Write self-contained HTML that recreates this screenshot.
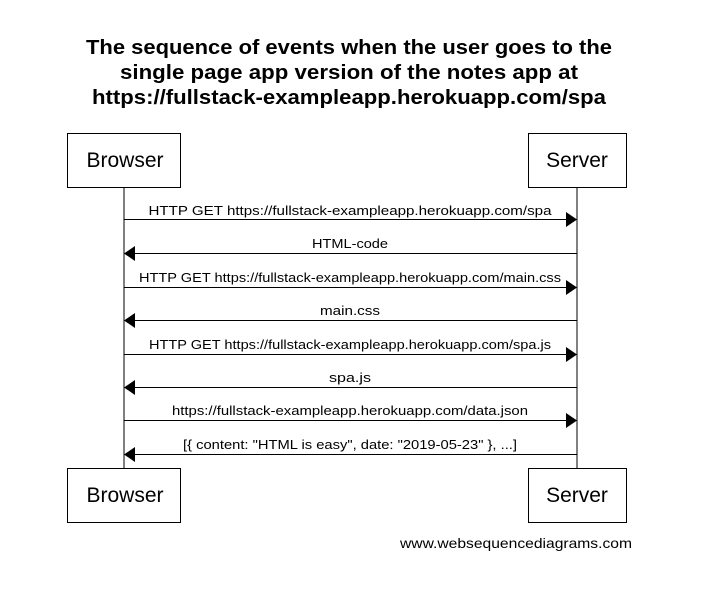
<!DOCTYPE html>
<html><head><style>body{margin:0;background:#fff}</style></head><body>
<svg width="705" height="590" xmlns="http://www.w3.org/2000/svg" font-family="Liberation Sans, sans-serif">
<g font-weight="bold" font-size="20" text-anchor="middle" fill="#000" lengthAdjust="spacingAndGlyphs">
<text x="349" y="54" textLength="526" lengthAdjust="spacingAndGlyphs">The sequence of events when the user goes to the</text>
<text x="349" y="79" textLength="458" lengthAdjust="spacingAndGlyphs">single page app version of the notes app at</text>
<text x="349" y="104" textLength="514" lengthAdjust="spacingAndGlyphs">https://fullstack-exampleapp.herokuapp.com/spa</text>
</g>
<g stroke="#000" stroke-width="1" fill="#fff">
<line x1="124" y1="187" x2="124" y2="468"/>
<line x1="577" y1="187" x2="577" y2="468"/>
<rect x="67.5" y="133.5" width="113" height="54"/>
<rect x="528.5" y="133.5" width="98" height="54"/>
<rect x="67.5" y="468.5" width="113" height="54"/>
<rect x="528.5" y="468.5" width="98" height="54"/>
</g>
<g font-size="21" text-anchor="middle">
<text x="125" y="167">Browser</text><text x="577" y="167">Server</text>
<text x="125" y="502">Browser</text><text x="577" y="502">Server</text>
</g>
<g stroke="#000" stroke-width="1">
<line x1="124" y1="219.5" x2="567" y2="219.5"/>
<line x1="134" y1="253.5" x2="577" y2="253.5"/>
<line x1="124" y1="287.5" x2="567" y2="287.5"/>
<line x1="134" y1="320.5" x2="577" y2="320.5"/>
<line x1="124" y1="354.5" x2="567" y2="354.5"/>
<line x1="134" y1="387.5" x2="577" y2="387.5"/>
<line x1="124" y1="420.5" x2="567" y2="420.5"/>
<line x1="134" y1="454.5" x2="577" y2="454.5"/>
</g>
<g fill="#000">
<polygon points="566,212 577,219.5 566,227"/>
<polygon points="135,246 124,253.5 135,261"/>
<polygon points="566,280 577,287.5 566,295"/>
<polygon points="135,313 124,320.5 135,328"/>
<polygon points="566,347 577,354.5 566,362"/>
<polygon points="135,380 124,387.5 135,395"/>
<polygon points="566,413 577,420.5 566,428"/>
<polygon points="135,447 124,454.5 135,462"/>
</g>
<g font-size="13" text-anchor="middle">
<text x="350" y="215" textLength="403" lengthAdjust="spacingAndGlyphs">HTTP GET https://fullstack-exampleapp.herokuapp.com/spa</text>
<text x="350" y="248" textLength="76" lengthAdjust="spacingAndGlyphs">HTML-code</text>
<text x="350" y="282" textLength="422" lengthAdjust="spacingAndGlyphs">HTTP GET https://fullstack-exampleapp.herokuapp.com/main.css</text>
<text x="350" y="315" textLength="60" lengthAdjust="spacingAndGlyphs">main.css</text>
<text x="350" y="349" textLength="402" lengthAdjust="spacingAndGlyphs">HTTP GET https://fullstack-exampleapp.herokuapp.com/spa.js</text>
<text x="350" y="382" textLength="42" lengthAdjust="spacingAndGlyphs">spa.js</text>
<text x="350" y="415" textLength="356" lengthAdjust="spacingAndGlyphs">https://fullstack-exampleapp.herokuapp.com/data.json</text>
<text x="350" y="449" textLength="334" lengthAdjust="spacingAndGlyphs">[{ content: "HTML is easy", date: "2019-05-23" }, ...]</text>
</g>
<text x="632" y="548" font-size="14" text-anchor="end" textLength="232" lengthAdjust="spacingAndGlyphs">www.websequencediagrams.com</text>
</svg>
</body></html>
